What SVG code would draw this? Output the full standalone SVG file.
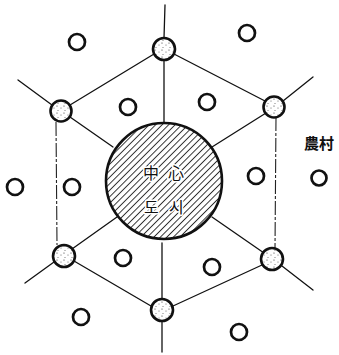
<svg xmlns="http://www.w3.org/2000/svg" width="339" height="355" viewBox="0 0 339 355">
<style>
.ln{stroke:#111;stroke-width:1.3;fill:none;stroke-linecap:round}
.dash{stroke:#222;stroke-width:1.1;fill:none;stroke-dasharray:14 2 3 2}
.town{fill:url(#stip);stroke:#111;stroke-width:2.6}
.vil{fill:#fff;stroke:#111;stroke-width:2.7}
.lbl{font-family:"Noto Sans CJK KR","Noto Sans CJK SC",sans-serif;fill:#111}
.city{font-size:16px;stroke:#fff;stroke-width:3;paint-order:stroke;stroke-linejoin:round}
</style>
<defs>
<pattern id="stip" width="7" height="7" patternUnits="userSpaceOnUse">
<rect width="7" height="7" fill="#fff"/>
<circle cx="1" cy="1" r="0.6" fill="#333"/>
<circle cx="5" cy="3" r="0.5" fill="#444"/>
<circle cx="2" cy="5.5" r="0.5" fill="#555"/>
</pattern>
<pattern id="hatch" width="4.6" height="4.6" patternUnits="userSpaceOnUse" patternTransform="rotate(45)">
<rect width="4.6" height="4.6" fill="#fff"/>
<line x1="0.5" y1="0" x2="0.5" y2="4.6" stroke="#222" stroke-width="0.9"/>
</pattern>
</defs>
<g id="connectors">
<line class="ln" x1="165" y1="5" x2="164" y2="38"/>
<line class="ln" x1="164" y1="60" x2="164" y2="124"/>
<line class="ln" x1="154" y1="54" x2="70" y2="105"/>
<line class="ln" x1="174" y1="54" x2="265" y2="101"/>
<line class="ln" x1="18" y1="80" x2="52" y2="105"/>
<line class="ln" x1="283" y1="101" x2="313" y2="77"/>
<line class="ln" x1="70" y1="117" x2="113" y2="147"/>
<line class="ln" x1="266" y1="113" x2="212" y2="147"/>
<line class="dash" x1="56" y1="122" x2="57" y2="245"/>
<line class="dash" x1="276" y1="117" x2="275" y2="249"/>
<line class="ln" x1="72" y1="249" x2="117" y2="217"/>
<line class="ln" x1="264" y1="253" x2="212" y2="217"/>
<line class="ln" x1="162" y1="243" x2="162" y2="299"/>
<line class="ln" x1="162" y1="321" x2="162" y2="352"/>
<line class="ln" x1="74" y1="261" x2="151" y2="306"/>
<line class="ln" x1="173" y1="306" x2="262" y2="265"/>
<line class="ln" x1="25" y1="283" x2="54" y2="262"/>
<line class="ln" x1="282" y1="266" x2="313" y2="290"/>
</g>
<g id="city">
<circle cx="164" cy="181" r="58" fill="url(#hatch)" stroke="#111" stroke-width="2.6"/>
<text class="lbl city" x="143" y="179">中</text>
<text class="lbl city" x="168" y="179">心</text>
<text class="lbl city" x="144" y="213">도</text>
<text class="lbl city" x="169" y="213">시</text>
</g>
<g id="town-top"><circle class="town" cx="164" cy="49" r="11"/></g>
<g id="town-upper-left"><circle class="town" cx="61" cy="111" r="10.5"/></g>
<g id="town-upper-right"><circle class="town" cx="274" cy="107" r="10.5"/></g>
<g id="town-lower-left"><circle class="town" cx="64" cy="256" r="11"/></g>
<g id="town-lower-right"><circle class="town" cx="272" cy="259" r="11"/></g>
<g id="town-bottom"><circle class="town" cx="162" cy="310" r="11"/></g>
<g id="villages">
<circle class="vil" cx="77" cy="42" r="8"/>
<circle class="vil" cx="247" cy="33" r="8"/>
<circle class="vil" cx="128" cy="107" r="8"/>
<circle class="vil" cx="207" cy="102" r="8"/>
<circle class="vil" cx="15" cy="187" r="8"/>
<circle class="vil" cx="72" cy="187" r="8"/>
<circle class="vil" cx="256" cy="176" r="8"/>
<circle class="vil" cx="319" cy="178" r="7.5"/>
<circle class="vil" cx="123" cy="258" r="8"/>
<circle class="vil" cx="212" cy="267" r="8"/>
<circle class="vil" cx="81" cy="317" r="8"/>
<circle class="vil" cx="239" cy="332" r="8"/>
</g>
<g id="label-farm">
<text class="lbl" x="304" y="149" font-size="15" font-weight="bold">農村</text>
</g>
</svg>
